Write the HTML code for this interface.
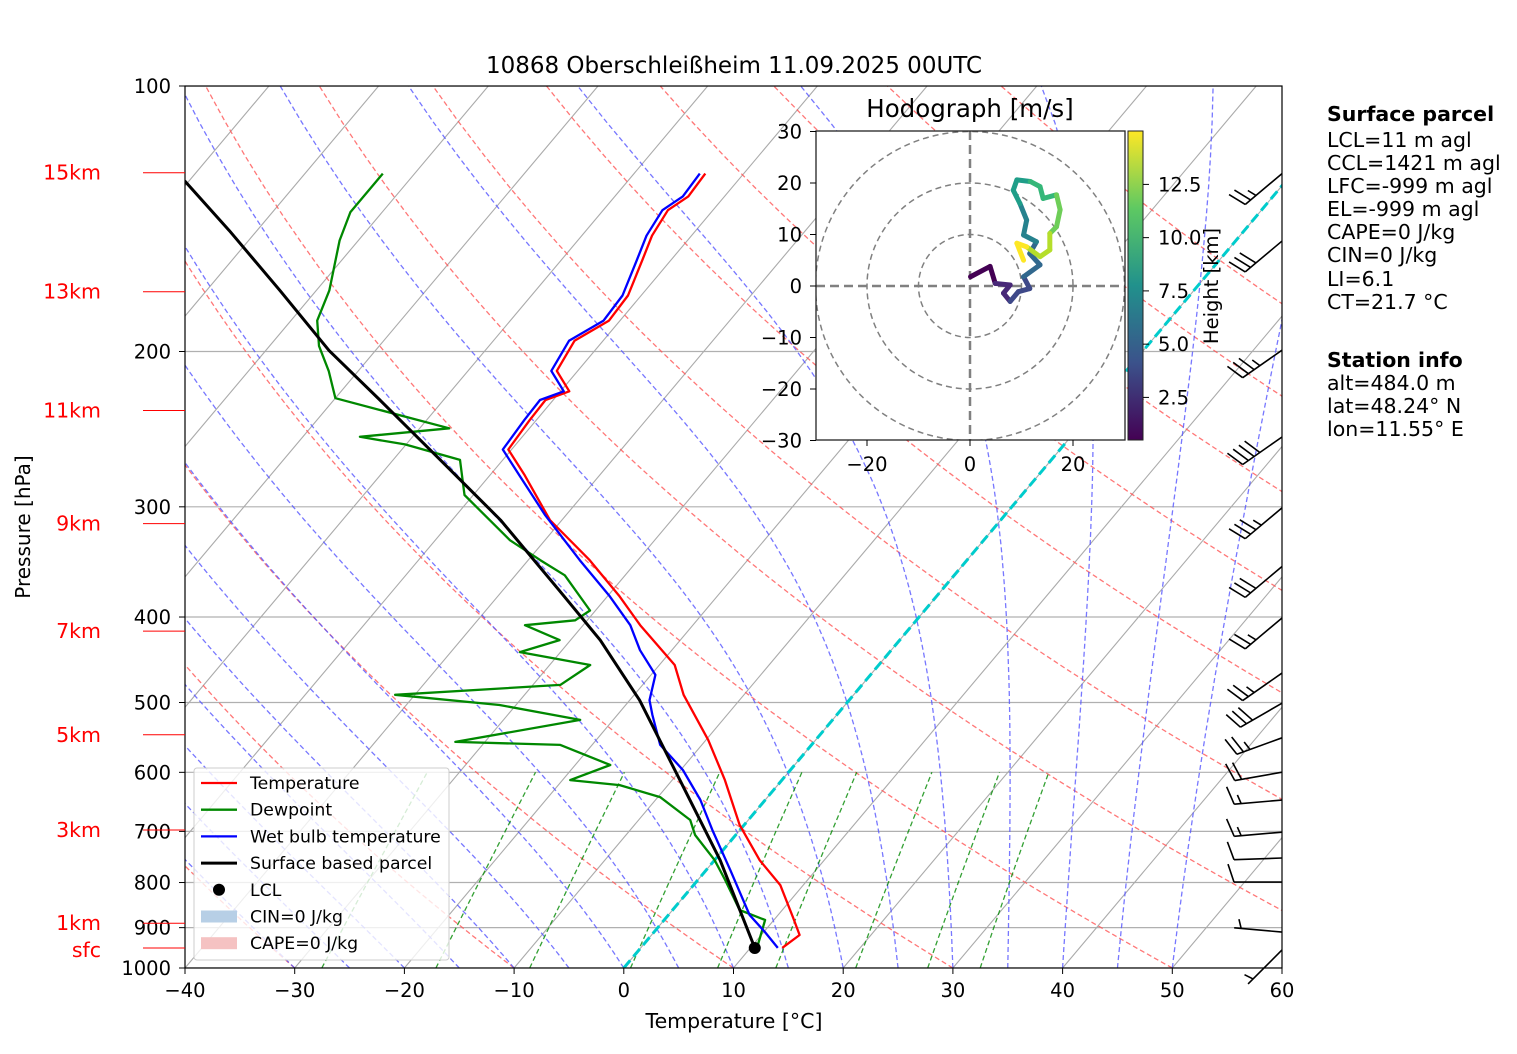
<!DOCTYPE html>
<html><head><meta charset="utf-8"><style>
body{margin:0;background:#fff;}
svg{display:block;font-family:"DejaVu Sans","Liberation Sans",sans-serif;}
</style></head><body>
<svg id="c" width="1517" height="1054" xmlns="http://www.w3.org/2000/svg">
<defs><clipPath id="pc"><rect x="185" y="86" width="1097" height="882"/></clipPath>
<clipPath id="hc"><rect x="816" y="131" width="309" height="309"/></clipPath>
<linearGradient id="vir" x1="0" y1="1" x2="0" y2="0">
<stop offset="0" stop-color="#440154"/><stop offset="0.25" stop-color="#3b528b"/><stop offset="0.5" stop-color="#21918c"/><stop offset="0.75" stop-color="#5ec962"/><stop offset="1" stop-color="#fde725"/></linearGradient></defs>
<g id="bg" clip-path="url(#pc)"></g>
<g id="prof" clip-path="url(#pc)"></g>
<rect x="185" y="86" width="1097" height="882" fill="none" stroke="#000" stroke-width="1.2"/>
<g id="ax"></g>
<text x="734" y="73" font-size="23" text-anchor="middle">10868 Oberschleißheim 11.09.2025 00UTC</text>
<text x="734" y="1028" font-size="20.5" text-anchor="middle">Temperature [°C]</text>
<text transform="translate(30,527) rotate(-90)" font-size="20" text-anchor="middle">Pressure [hPa]</text>
<g id="hodo"></g>
<g id="barbs"></g>
<g id="leg">
<rect x="194" y="768" width="255" height="192" fill="#fff" fill-opacity="0.8" stroke="#ccc" rx="3"/>
</g>
<g font-size="20.5">
<text x="1327" y="121" font-weight="bold">Surface parcel</text>
<text x="1327" y="147">LCL=11 m agl</text>
<text x="1327" y="170">CCL=1421 m agl</text>
<text x="1327" y="193">LFC=-999 m agl</text>
<text x="1327" y="216">EL=-999 m agl</text>
<text x="1327" y="239">CAPE=0 J/kg</text>
<text x="1327" y="262">CIN=0 J/kg</text>
<text x="1327" y="286">LI=6.1</text>
<text x="1327" y="309">CT=21.7 °C</text>
<text x="1327" y="367" font-weight="bold">Station info</text>
<text x="1327" y="390">alt=484.0 m</text>
<text x="1327" y="413">lat=48.24° N</text>
<text x="1327" y="436">lon=11.55° E</text>
</g>
</svg>
<script>
const tempP=[949,917.5,877.5,805.3,754.5,688.6,612.3,551.3,490.1,453.4,408.6,378.2,344.8,310.5,276.4,258.3,239.2,227.0,221.9,210.4,194.5,184.5,172.8,157.6,147.8,138.3,133.4,125.7];
const tempT=[12.9,13.5,11.6,7.9,4.1,-0.4,-5.2,-9.8,-15.5,-18.6,-24.8,-29.0,-34.4,-41.1,-46.8,-50.3,-50.6,-50.7,-49.2,-51.9,-52.6,-51.0,-51.2,-52.6,-53.6,-54.1,-53.3,-53.5];
const wetP=[949,910.4,870.8,774.4,697.6,645.0,596.3,558.5,516.6,497.0,465.3,436.2,408.6,378.2,344.8,306.6,276.4,258.3,239.2,227.0,221.9,210.4,194.5,184.5,172.8,157.6,147.8,138.3,133.4,125.7];
const wetT=[12.5,10.1,7.4,2.2,-2.5,-5.9,-9.8,-13.8,-16.8,-18.2,-19.6,-22.9,-25.7,-29.9,-35.3,-41.9,-47.3,-50.8,-51.1,-51.2,-49.7,-52.4,-53.1,-51.5,-51.7,-53.1,-54.1,-54.6,-53.8,-54.0];
const dewP=[949,882.2,859.4,794.9,754.5,706.6,679.5,640.0,620.4,612.3,588.7,558.5,554.2,523.3,503.3,490.1,477.6,453.4,438.4,424.9,408.6,403.4,393.3,358.7,344.8,327.3,290.9,265.4,254.9,249.9,244.4,225.9,210.4,197.1,184.5,170.6,149.7,139.0,125.7];
const dewT=[10.6,9.2,6.1,2.5,0.0,-3.7,-5.3,-9.8,-14.4,-19.3,-16.8,-22.9,-32.7,-23.0,-31.5,-41.8,-27.5,-26.3,-33.7,-31.0,-35.3,-31.1,-30.5,-35.5,-38.9,-43.2,-50.8,-53.9,-60.1,-64.8,-57.3,-70.0,-72.7,-75.5,-77.6,-78.8,-81.7,-82.9,-82.9];
const parcelP=[949,754.5,612.3,497.0,424.9,373.4,310.5,265.4,227.0,199.6,170.6,145.9,128.1];
const parcelT=[10.4,0.5,-9.3,-19.1,-27.3,-34.8,-45.6,-55.7,-65.8,-74.2,-83.3,-92.5,-100.4];
const hodoU=[0.1,3.9,4.9,7.8,6.5,7.8,9.4,11.6,10.4,13.6,11.6,12.9,10.4,11,9.7,8.4,9.1,11.7,13.6,14.2,16.8,17.5,16.8,15.5,15.5,13.6,11,9.1,10.4];
const hodoV=[1.8,3.8,0.5,0.2,-1.4,-3.0,-1.1,-0.5,1.8,4.1,6.3,8.6,9.9,12.8,16,18.6,20.6,20.3,19.3,17,17.7,14.8,11.5,10.2,7,5.7,7.6,8.3,5];
const barbP=[125.7,149.9,199.3,250.0,300.8,350.6,401.0,463.0,500.9,548.3,599.8,645.0,701.4,750.4,799.1,910.4,954];
const barbSpd=[25,30,35,40,35,30,25,25,30,25,20,15,15,10,10,5,5];
const barbDir=[230,230,235,235,230,230,230,235,240,250,260,265,265,268,270,275,225];
const pTicks=[100,200,300,400,500,600,700,800,900,1000];
const tTicks=[-40,-30,-20,-10,0,10,20,30,40,50,60];
const kmLabels=["15km","13km","11km","9km","7km","5km","3km","1km","sfc"];
const kmP=[125.4,171.1,233.3,313.5,415.0,544.0,697.6,889.7,949];

const NS='http://www.w3.org/2000/svg';
function mk(tag,attrs,parent){const e=document.createElementNS(NS,tag);for(const k in attrs)e.setAttribute(k,attrs[k]);parent.appendChild(e);return e;}
function yP(p){return 968-882*Math.log10(1000/p);}
function xT(T,p){return 185+(T+40)*10.97+(968-yP(p))*0.8414;}
function pathFrom(P,T){return P.map((p,i)=>(i?'L':'M')+xT(T[i],p).toFixed(1)+','+yP(p).toFixed(1)).join('');}
const bg=document.getElementById('bg'),prof=document.getElementById('prof'),ax=document.getElementById('ax');
pTicks.forEach(p=>{const l=mk('line',{x1:185,x2:1282,y1:yP(p),y2:yP(p),stroke:'#b0b0b0','stroke-width':1.2},bg);
});
for(let T=-160;T<=60;T+=10){const l=mk('line',{x1:xT(T,1000),y1:yP(1000),x2:xT(T,100),y2:yP(100),stroke:'#aaa','stroke-width':1.1},bg);
}
const ps=[];for(let p=1000;p>=100;p-=10)ps.push(p);
for(let th=-30;th<=190;th+=20){const d=ps.map((p,i)=>(i?'L':'M')+xT((th+273.15)*Math.pow(p/1000,0.2857)-273.15,p).toFixed(1)+','+yP(p).toFixed(1)).join('');
const e=mk('path',{d:d,fill:'none',stroke:'#f55','stroke-width':1.3,'stroke-dasharray':'5,3',opacity:0.8},bg);
}
function es(T){return 6.112*Math.exp(17.67*T/(T+243.5));}
for(let t0=-30;t0<=50;t0+=5){let T=t0+273.15,p=1000,d='M'+xT(t0,1000).toFixed(1)+','+yP(1000).toFixed(1);
while(p>100){const rs=0.622*es(T-273.15)/(p-es(T-273.15));const dTdp=(287*T+2.5e6*rs)/(1004+2.5e6*2.5e6*rs*0.622/(287*T*T))/p;
const dp=-2;T+=dTdp*dp;p+=dp;if(Math.round(p)%10===0)d+='L'+xT(T-273.15,p).toFixed(1)+','+yP(p).toFixed(1);}
const e=mk('path',{d:d,fill:'none',stroke:'#55f','stroke-width':1.3,'stroke-dasharray':'5,3',opacity:0.8},bg);
}
[0.0004,0.001,0.002,0.004,0.007,0.01,0.016,0.024,0.032].forEach(w=>{let d='';[1000,900,800,700,600].forEach((p,i)=>{const e=w*p/(0.622+w);const L=Math.log(e/6.112);const td=243.5*L/(17.67-L);d+=(i?'L':'M')+xT(td,p).toFixed(1)+','+yP(p).toFixed(1);});
const e=mk('path',{d:d,fill:'none',stroke:'#080','stroke-width':1.3,'stroke-dasharray':'5,3',opacity:0.8},bg);
});
const z=mk('line',{x1:xT(0,1000),y1:yP(1000),x2:xT(0,100),y2:yP(100),stroke:'#0cc','stroke-width':3,'stroke-dasharray':'10,5'},bg);

function line(P,T,c,w,n){const e=mk('path',{d:pathFrom(P,T),fill:'none',stroke:c,'stroke-width':w,'stroke-linejoin':'round'},prof);}
line(dewP,dewT,'#080',2.3,'dewpoint-line');
line(tempP,tempT,'#f00',2.3,'temperature-line');
line(wetP,wetT,'#00f',2.3,'wetbulb-line');
line(parcelP,parcelT,'#000',3,'parcel-line');
const lc=mk('circle',{cx:xT(parcelT[0],parcelP[0]),cy:yP(parcelP[0]),r:6,fill:'#000'},prof);

pTicks.forEach(p=>{mk('line',{x1:179,x2:185,y1:yP(p),y2:yP(p),stroke:'#000'},ax);
const t=mk('text',{x:171,y:yP(p)+7,'font-size':19.5,'text-anchor':'end'},ax);t.textContent=p;
});
tTicks.forEach(T=>{const x=185+(T+40)*10.97;mk('line',{x1:x,x2:x,y1:968,y2:974,stroke:'#000'},ax);
const t=mk('text',{x:x,y:997,'font-size':19.5,'text-anchor':'middle'},ax);t.textContent=String(T).replace('-','−');
});
kmLabels.forEach((k,i)=>{const y=yP(kmP[i]);mk('line',{x1:143,x2:185,y1:y,y2:y,stroke:'#f00'},ax);
const t=mk('text',{x:101,y:y+(k==='sfc'?9:7),'font-size':20.5,'text-anchor':'end',fill:'#f00'},ax);t.textContent=k;
});
const hg=document.getElementById('hodo');const hx=970,hy=286,hs=5.15;
mk('rect',{x:816,y:131,width:309,height:309,fill:'#fff'},hg);
const hp=mk('g',{'clip-path':'url(#hc)'},hg);
[10,20,30].forEach(r=>mk('circle',{cx:hx,cy:hy,r:r*hs,fill:'none',stroke:'#808080','stroke-width':1.5,'stroke-dasharray':'6,4'},hp));
mk('line',{x1:816,x2:1125,y1:hy,y2:hy,stroke:'#808080','stroke-width':2.5,'stroke-dasharray':'9,5'},hp);
mk('line',{x1:hx,x2:hx,y1:131,y2:440,stroke:'#808080','stroke-width':2.5,'stroke-dasharray':'9,5'},hp);
const vc=['#440154','#482878','#3e4989','#31688e','#26828e','#1f9e89','#35b779','#6ece58','#b5de2b','#fde725'];
for(let i=1;i<hodoU.length;i++){const f=i/hodoU.length;const c=vc[Math.min(9,Math.floor(f*10))];
const s=mk('line',{x1:hx+hodoU[i-1]*hs,y1:hy-hodoV[i-1]*hs,x2:hx+hodoU[i]*hs,y2:hy-hodoV[i]*hs,stroke:c,'stroke-width':5,'stroke-linecap':'round'},hp);
}
mk('rect',{x:816,y:131,width:309,height:309,fill:'none',stroke:'#222','stroke-width':1.3},hg);
const ht=mk('text',{x:970,y:117,'font-size':24.5,'text-anchor':'middle'},hg);ht.textContent='Hodograph [m/s]';
[-30,-20,-10,0,10,20,30].forEach(v=>{const y=hy-v*hs;mk('line',{x1:810,x2:816,y1:y,y2:y,stroke:'#000'},hg);
const t=mk('text',{x:802,y:y+7,'font-size':19.5,'text-anchor':'end'},hg);t.textContent=String(v).replace('-','−');});
[-20,0,20].forEach(v=>{const x=hx+v*hs;mk('line',{x1:x,x2:x,y1:440,y2:446,stroke:'#000'},hg);
const t=mk('text',{x:x,y:471,'font-size':19.5,'text-anchor':'middle'},hg);t.textContent=String(v).replace('-','−');});
mk('rect',{x:1128,y:131,width:15,height:309,fill:'url(#vir)',stroke:'#222'},hg);
[2.5,5.0,7.5,10.0,12.5].forEach(v=>{const y=440-(v-0.5)*21.3;mk('line',{x1:1143,x2:1149,y1:y,y2:y,stroke:'#000'},hg);
const t=mk('text',{x:1158,y:y+7,'font-size':19.5},hg);t.textContent=v.toFixed(1);});
const hk=mk('text',{transform:'translate(1218,286) rotate(-90)','font-size':19.5,'text-anchor':'middle'},hg);hk.textContent='Height [km]';
const bgp=document.getElementById('barbs');
barbP.forEach((p,i)=>{const sx=1282,sy=yP(p),a=barbDir[i]*Math.PI/180,L=48;
const g=mk('g',{stroke:'#000','stroke-width':1.6,fill:'none'},bgp);

const qx=sx+L*Math.sin(a),qy=sy-L*Math.cos(a);
mk('line',{x1:sx,y1:sy,x2:qx,y2:qy},g);
const sdx=(qx-sx)/L,sdy=(qy-sy)/L;let perx=sdy,pery=-sdx;if(pery>0){perx=-perx;pery=-pery;}
let spd=barbSpd[i],k=0;
while(spd>=10){const bx=qx-sdx*k*7,by=qy-sdy*k*7;mk('line',{x1:bx,y1:by,x2:bx+perx*18+sdx*6,y2:by+pery*18+sdy*6},g);spd-=10;k++;}
if(spd>=5){if(k===0)k=1;const bx=qx-sdx*k*7,by=qy-sdy*k*7;mk('line',{x1:bx,y1:by,x2:bx+perx*9+sdx*3,y2:by+pery*9+sdy*3},g);}
});
const lg=document.getElementById('leg');
const items=[['line','#f00','Temperature'],['line','#080','Dewpoint'],['line','#00f','Wet bulb temperature'],['line','#000','Surface based parcel'],['dot','#000','LCL'],['box','#b7cfe6','CIN=0 J/kg'],['box','#f5c2c2','CAPE=0 J/kg']];
items.forEach((it,i)=>{const y=783+i*26.7;
if(it[0]==='line')mk('line',{x1:201,x2:237,y1:y,y2:y,stroke:it[1],'stroke-width':it[1]==='#000'?3:2.3},lg);
else if(it[0]==='dot')mk('circle',{cx:219,cy:y,r:6,fill:'#000'},lg);
else mk('rect',{x:201,y:y-6,width:36,height:12,fill:it[1]},lg);
const t=mk('text',{x:250,y:y+6,'font-size':17.3},lg);t.textContent=it[2];
});
</script>
</body></html>
